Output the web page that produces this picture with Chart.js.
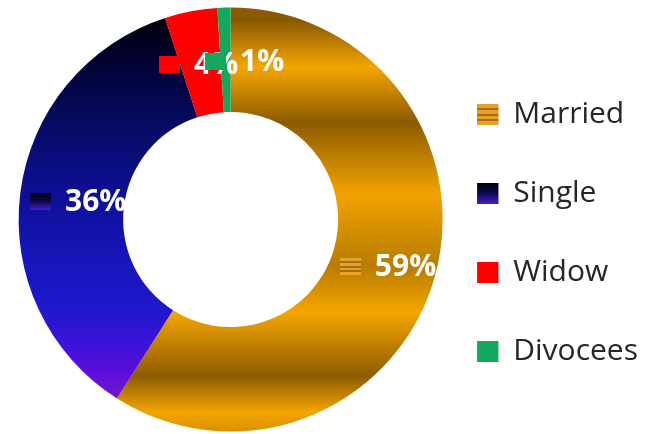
<!DOCTYPE html>
<html><head><meta charset="utf-8">
<script src="https://cdn.jsdelivr.net/npm/chart.js@4.4.0/dist/chart.umd.min.js"></script>
<style>
html,body{margin:0;padding:0;background:#ffffff;}
#wrap{width:662px;height:434px;position:relative;}
canvas{display:block;}
</style></head><body>
<div id="wrap"><canvas id="c" width="662" height="434"></canvas></div>
<script>
// ---- data ----
const categories = ['Married', 'Single', 'Widow', 'Divocees'];
const shares = [59, 36, 4, 1];
const shareLabels = ['59%', '36%', '4%', '1%'];
const baseColors = ['#d99400', '#0d0d80', '#ff0000', '#12a95c'];

// ---- styling helpers ----
const goldStops = [[0,'#8e5b00'],[0.03,'#8a5800'],[0.14,'#f4a600'],[0.27,'#8c5a00'],[0.44,'#f2a300'],[0.55,'#cc8a00'],[0.61,'#b97c00'],[0.72,'#f4a600'],[0.87,'#8e5b00'],[0.955,'#f3a500'],[1,'#d89200']];
const blueStops = [[0,'#00000c'],[0.03,'#00000f'],[0.12,'#020230'],[0.26,'#060a5e'],[0.45,'#0e1098'],[0.59,'#1616b8'],[0.71,'#1e18cc'],[0.79,'#3c12d8'],[0.86,'#5c0edc'],[0.92,'#7418c8'],[1,'#7a28b0']];

const fillCache = {};
function ringFill(chart, i) {
  const a = chart.chartArea;
  if (!a || i === undefined) return baseColors[i || 0];
  const key = i + ':' + a.top + ':' + a.bottom;
  if (fillCache[key]) return fillCache[key];
  let f = baseColors[i];
  if (i === 0 || i === 1) {
    const g = chart.ctx.createLinearGradient(0, a.top, 0, a.bottom);
    (i === 0 ? goldStops : blueStops).forEach(s => g.addColorStop(s[0], s[1]));
    f = g;
  }
  fillCache[key] = f;
  return f;
}

function drawKey(ctx, i, x, y, w, h) {
  ctx.save();
  if (i === 0) {
    ctx.fillStyle = '#e6a22a';
    ctx.fillRect(x, y, w, h);
    ctx.fillStyle = '#a86e0c';
    const n = 4;
    for (let k = 1; k < n; k++) {
      ctx.fillRect(x, Math.round(y + k * h / n) - 1, w, 2);
    }
  } else if (i === 1) {
    const g = ctx.createLinearGradient(0, y, 0, y + h);
    g.addColorStop(0, '#00000c');
    g.addColorStop(0.5, '#0a0a52');
    g.addColorStop(1, '#4a1ad0');
    ctx.fillStyle = g;
    ctx.fillRect(x, y, w, h);
  } else {
    ctx.fillStyle = baseColors[i];
    ctx.fillRect(x, y, w, h);
  }
  ctx.restore();
}

const sliceLabels = {
  id: 'sliceLabels',
  afterDatasetsDraw(chart, args, opts) {
    const ctx = chart.ctx;
    const meta = chart.getDatasetMeta(0);
    ctx.save();
    meta.data.forEach((arc, i) => {
      const p = arc.tooltipPosition();
      ctx.font = opts.font;
      const text = shareLabels[i];
      const tw = ctx.measureText(text).width;
      const total = opts.keyW + opts.gap + tw;
      const nx = (opts.nudgeX && opts.nudgeX[i]) || 0;
      const x0 = p.x - total / 2 + nx;
      const y = p.y + opts.dy;
      drawKey(ctx, i, Math.round(x0), Math.round(y - opts.keyH / 2), opts.keyW, opts.keyH);
      ctx.font = opts.font;
      ctx.fillStyle = opts.color;
      ctx.textBaseline = 'middle';
      ctx.textAlign = 'left';
      ctx.fillText(text, x0 + opts.keyW + opts.gap, y + 1);
    });
    ctx.restore();
  },
  afterDraw(chart) {
    const lg = chart.legend;
    if (!lg || !lg.legendHitBoxes) return;
    const ctx = chart.ctx;
    lg.legendHitBoxes.forEach((hb, i) => {
      drawKey(ctx, i, hb.left, Math.round(hb.top + (hb.height - 21) / 2), 21, 21);
    });
  }
};

new Chart(document.getElementById('c'), {
  type: 'doughnut',
  data: {
    labels: categories,
    datasets: [{
      data: shares,
      backgroundColor: (c) => ringFill(c.chart, c.dataIndex),
      borderWidth: 0,
      radius: 212,
      cutout: '50.7%'
    }]
  },
  options: {
    responsive: false,
    animation: false,
    rotation: 0,
    layout: { padding: { left: 33, right: 14, top: 8, bottom: 3 } },
    plugins: {
      tooltip: { enabled: false },
      legend: {
        position: 'right',
        align: 'center',
        title: { display: true, text: ' ', font: { size: 10, lineHeight: 1.2 }, padding: { top: 15, bottom: 0 } },
        labels: {
          boxWidth: 21,
          boxHeight: 21,
          padding: 49,
          color: '#262626',
          font: { family: "'Open Sans', sans-serif", size: 30 }
        }
      },
      sliceLabels: {
        font: "bold 30px 'Open Sans', sans-serif",
        color: '#ffffff',
        keyW: 21,
        keyH: 17,
        gap: 14,
        dy: 2,
        nudgeX: [4, 6, -2, 19]
      }
    }
  },
  plugins: [sliceLabels]
});
</script>
</body></html>
